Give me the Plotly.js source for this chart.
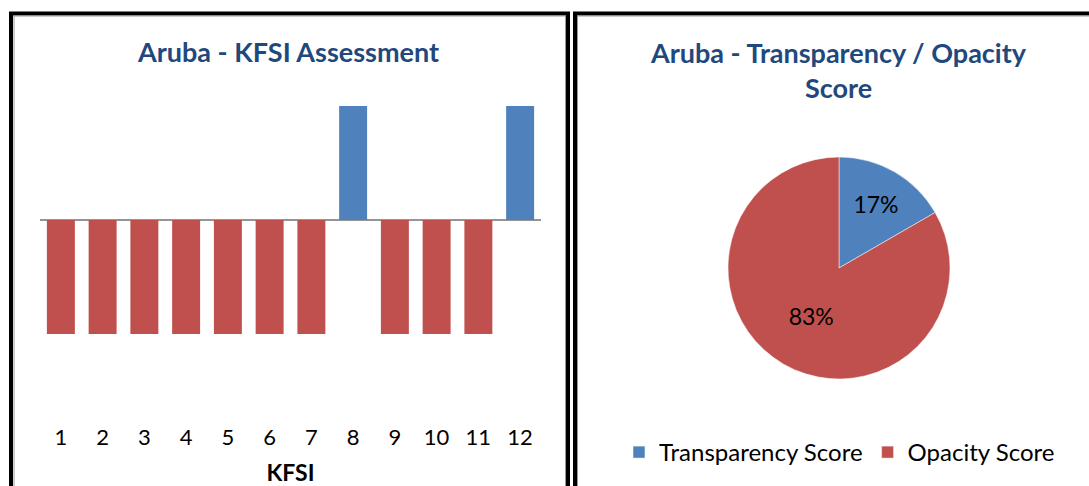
<!DOCTYPE html>
<html>
<head>
<meta charset="utf-8">
<script src="https://cdn.plot.ly/plotly-3.0.1.min.js"></script>
<style>html,body{margin:0;padding:0;background:#fff;}#chart{width:1089px;height:486px;}</style>
</head>
<body>
<div id="chart"></div>
<script>
// ---- data ----
var kfsiCategories = [1, 2, 3, 4, 5, 6, 7, 8, 9, 10, 11, 12];
var kfsiTickLabels = ['1','2','3','4','5','6','7','8','9','10','11','12'];
var kfsiValues = [-1, -1, -1, -1, -1, -1, -1, 1, -1, -1, -1, 1];
var pieLabels = ['Transparency Score', 'Opacity Score'];
var pieValues = [2, 10];

var W = 1089, H = 486;
function px(x){ return x / W; }
function py(y){ return 1 - y / H; }

var BLUE = '#4F81BD', RED = '#C0504D', TITLE = '#1F497D';
var FONT = 'Lato, "Open Sans", sans-serif';

var barColors = kfsiValues.map(function(v){ return v >= 0 ? BLUE : RED; });

var barTrace = {
  type: 'bar',
  x: kfsiCategories,
  y: kfsiValues,
  marker: {color: barColors, line: {width: 0}},
  xaxis: 'x', yaxis: 'y',
  showlegend: false,
  hoverinfo: 'skip'
};

var pieTrace = {
  type: 'pie',
  labels: pieLabels,
  values: pieValues,
  sort: false,
  direction: 'clockwise',
  rotation: 0,
  marker: {colors: [BLUE, RED], line: {color: '#ffffff', width: 0.5}},
  texttemplate: '%{percent:.0%}',
  textposition: 'inside',
  insidetextorientation: 'horizontal',
  textfont: {family: FONT, size: 23, color: '#000000'},
  domain: {x: [px(728), px(950)], y: [py(379), py(157)]},
  hoverinfo: 'skip'
};

var y0px = 220, y1px = 106, bottomPx = 422;
var unit = y0px - y1px;
var yMin = -(bottomPx - y0px) / unit;

var shapes = [
  // left panel border
  {type:'rect', xref:'paper', yref:'paper', x0:px(11), x1:px(568), y0:py(500), y1:py(13.5), line:{color:'#000', width:4}},
  {type:'rect', xref:'paper', yref:'paper', x0:px(14), x1:px(565.5), y0:py(500), y1:py(16), line:{color:'#9a9a9a', width:1}},
  // right panel border
  {type:'rect', xref:'paper', yref:'paper', x0:px(575), x1:px(1100), y0:py(500), y1:py(13.5), line:{color:'#000', width:4}},
  {type:'rect', xref:'paper', yref:'paper', x0:px(577.5), x1:px(1100), y0:py(500), y1:py(16), line:{color:'#9a9a9a', width:1}}
];

var annotations = [
  {xref:'paper', yref:'paper', x:px(288), y:py(52), text:'<b>Aruba - KFSI Assessment</b>', showarrow:false,
   xanchor:'center', yanchor:'middle', font:{family:FONT, size:27, color:TITLE}},
  {xref:'paper', yref:'paper', x:px(838), y:py(70), text:'<b>Aruba - Transparency / Opacity<br>Score</b>', showarrow:false,
   xanchor:'center', yanchor:'middle', font:{family:FONT, size:27, color:TITLE}}
];

var layout = {
  width: W, height: H,
  margin: {l:0, r:0, t:0, b:0, autoexpand: false},
  paper_bgcolor: '#ffffff', plot_bgcolor: 'rgba(0,0,0,0)',
  font: {family: FONT, color: '#000'},
  bargap: 0.33,
  xaxis: {
    domain: [px(40), px(541)],
    range: [0.5, 12.5],
    tickmode: 'array', tickvals: kfsiCategories, ticktext: kfsiTickLabels,
    showline: false, showgrid: false, zeroline: false, ticks: '',
    tickfont: {family: FONT, size: 22, color: '#000'},
    title: {text: '<b>KFSI</b>', font: {family: FONT, size: 23, color: '#000'}, standoff: 18},
    fixedrange: true
  },
  yaxis: {
    domain: [py(bottomPx), py(y1px)],
    range: [yMin, 1],
    showticklabels: false, showgrid: false, showline: false, ticks: '',
    zeroline: true, zerolinecolor: '#959595', zerolinewidth: 2,
    fixedrange: true
  },
  showlegend: true,
  legend: {
    orientation: 'h', x: px(619), y: py(430), xanchor: 'left', yanchor: 'top',
    font: {family: FONT, size: 24, color: '#000'},
    bgcolor: 'rgba(0,0,0,0)', itemwidth: 30
  },
  shapes: shapes,
  annotations: annotations
};

Plotly.newPlot('chart', [barTrace, pieTrace], layout, {staticPlot: true, displayModeBar: false});
</script>
</body>
</html>
